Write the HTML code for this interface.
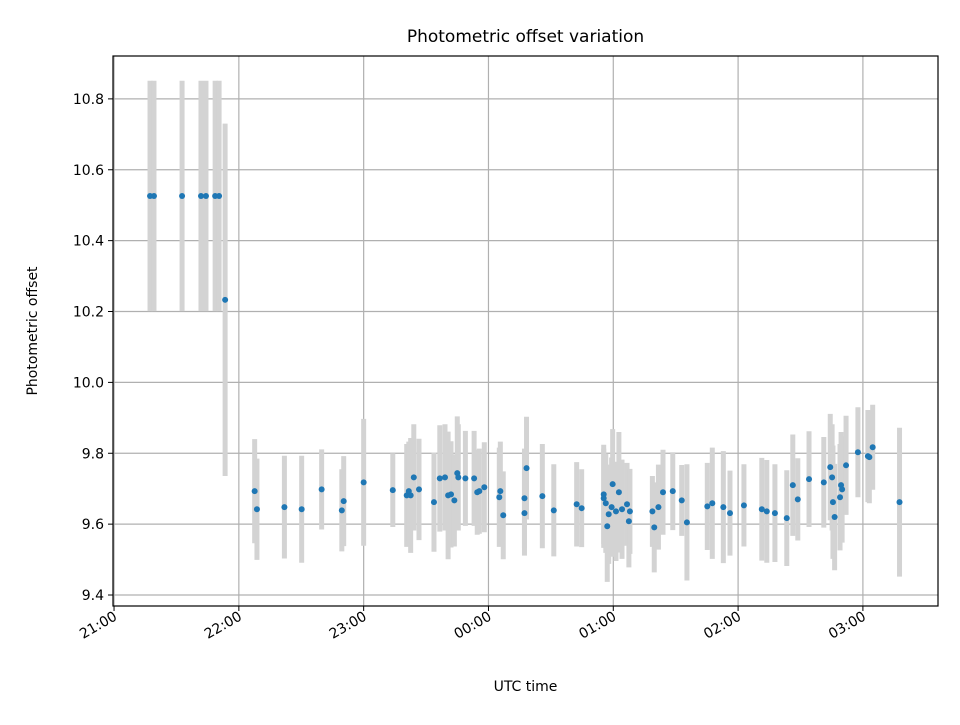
<!DOCTYPE html>
<html><head><meta charset="utf-8"><style>
body{margin:0;background:#fff}
svg text{font-family:"DejaVu Sans","Liberation Sans",sans-serif;fill:#000}
</style></head><body>
<svg id="chart" width="960" height="720" viewBox="0 0 960 720" xmlns="http://www.w3.org/2000/svg">
<rect width="960" height="720" fill="#fff"/>
<g id="grid"></g><g id="errs"></g><g id="pts"></g><g id="axes"></g>
</svg>
<script>
// minutes after 21:00 UTC
const times=[17.3,19.2,32.7,41.8,44.2,48.6,50.5,53.4,67.6,68.7,81.9,90.2,99.8,109.5,110.4,120.0,134.0,140.7,141.7,142.6,144.1,146.6,153.8,156.6,159.1,160.6,162.0,163.6,165.0,165.5,168.9,173.1,174.6,175.6,178.0,185.2,185.7,187.1,197.3,197.3,198.3,205.9,211.4,222.4,224.8,235.4,235.4,236.4,237.1,237.8,239.2,239.7,241.3,242.7,244.2,246.6,247.5,248.0,258.8,259.7,261.7,263.9,268.6,272.9,275.4,285.2,287.6,292.9,296.1,302.8,311.4,313.8,317.7,323.4,326.3,328.7,334.1,341.2,344.3,345.2,345.6,346.4,349.0,349.5,350.0,351.9,357.6,362.4,363.1,364.7,377.6];
const offsets=[10.526,10.526,10.526,10.526,10.526,10.526,10.526,10.233,9.693,9.642,9.648,9.642,9.698,9.639,9.665,9.718,9.696,9.681,9.693,9.681,9.732,9.698,9.662,9.729,9.732,9.681,9.684,9.667,9.744,9.732,9.729,9.729,9.690,9.693,9.704,9.676,9.693,9.625,9.673,9.631,9.758,9.679,9.639,9.656,9.645,9.684,9.673,9.659,9.594,9.628,9.648,9.713,9.636,9.690,9.642,9.656,9.608,9.636,9.636,9.591,9.648,9.690,9.693,9.667,9.605,9.650,9.659,9.648,9.631,9.653,9.642,9.636,9.631,9.617,9.710,9.670,9.727,9.718,9.761,9.732,9.662,9.620,9.676,9.710,9.698,9.766,9.803,9.792,9.789,9.817,9.662];
const errors=[0.325,0.325,0.325,0.325,0.325,0.325,0.325,0.497,0.147,0.143,0.145,0.151,0.113,0.116,0.127,0.179,0.104,0.145,0.14,0.162,0.15,0.143,0.14,0.15,0.15,0.18,0.15,0.13,0.16,0.15,0.134,0.134,0.12,0.12,0.127,0.14,0.14,0.124,0.14,0.12,0.145,0.147,0.13,0.119,0.11,0.14,0.14,0.14,0.157,0.14,0.14,0.155,0.14,0.17,0.14,0.117,0.13,0.12,0.1,0.127,0.12,0.12,0.11,0.1,0.164,0.123,0.157,0.158,0.12,0.116,0.145,0.145,0.138,0.135,0.143,0.116,0.135,0.128,0.15,0.15,0.16,0.15,0.15,0.15,0.15,0.14,0.127,0.13,0.13,0.12,0.21];
const xTicks=[0,60,120,180,240,300,360];
const xTickLabels=["21:00","22:00","23:00","00:00","01:00","02:00","03:00"];
const yTicks=[9.4,9.6,9.8,10.0,10.2,10.4,10.6,10.8];
const yTickLabels=["9.4","9.6","9.8","10.0","10.2","10.4","10.6","10.8"];

const L=113,R=938,T=56,B=606;
const xMin=-0.5,xMax=396.1,yMin=9.369,yMax=10.921;
const X=v=>L+(v-xMin)/(xMax-xMin)*(R-L);
const Y=v=>B-(v-yMin)/(yMax-yMin)*(B-T);
const NS="http://www.w3.org/2000/svg";
function mk(tag,attrs,parent,txt){const e=document.createElementNS(NS,tag);for(const k in attrs)e.setAttribute(k,attrs[k]);if(txt!==undefined)e.textContent=txt;document.getElementById(parent).appendChild(e);return e;}

xTicks.forEach((t,i)=>{
  const g=mk('line',{x1:X(t),x2:X(t),y1:T,y2:B,stroke:'#b0b0b0','stroke-width':1.2},'grid');
  
  
  const tk=mk('line',{x1:X(t),x2:X(t),y1:B,y2:B+5,stroke:'#000','stroke-width':1},'axes');
  
  
  const ax=X(t)+4, ay=B+13;
  const tx=mk('text',{x:ax,y:ay,'font-size':14,'text-anchor':'end',transform:`rotate(-30 ${ax} ${ay})`},'axes',xTickLabels[i]);
  
  
});
yTicks.forEach((v,i)=>{
  const g=mk('line',{x1:L,x2:R,y1:Y(v),y2:Y(v),stroke:'#b0b0b0','stroke-width':1.2},'grid');
  
  
  const tk=mk('line',{x1:L-5,x2:L,y1:Y(v),y2:Y(v),stroke:'#000','stroke-width':1},'axes');
  
  
  const tx=mk('text',{x:L-9,y:Y(v)+5,'font-size':14,'text-anchor':'end'},'axes',yTickLabels[i]);
  
  
});
times.forEach((t,i)=>{
  const e=mk('line',{x1:X(t),x2:X(t),y1:Y(offsets[i]+errors[i]),y2:Y(offsets[i]-errors[i]),stroke:'#d3d3d3','stroke-width':5},'errs');
  
  
});
times.forEach((t,i)=>{
  const c=mk('circle',{cx:X(t),cy:Y(offsets[i]),r:3,fill:'#1f77b4'},'pts');
  
  
});
const fr=mk('rect',{x:L,y:T,width:R-L,height:B-T,fill:'none',stroke:'#000','stroke-width':1.2},'axes');


const ti=mk('text',{x:(L+R)/2,y:42,'font-size':17,'text-anchor':'middle'},'axes','Photometric offset variation');


const xl=mk('text',{x:(L+R)/2,y:691,'font-size':14,'text-anchor':'middle'},'axes','UTC time');


const yl=mk('text',{x:37,y:(T+B)/2,'font-size':14,'text-anchor':'middle',transform:`rotate(-90 37 ${(T+B)/2})`},'axes','Photometric offset');


</script>
</body></html>
